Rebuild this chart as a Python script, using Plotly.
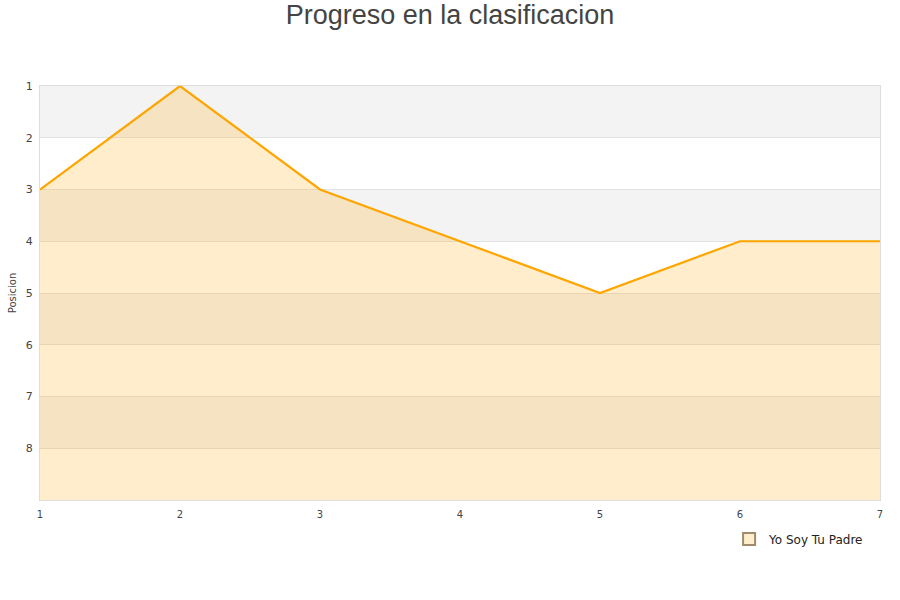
import plotly.graph_objects as go

jornadas = [1, 2, 3, 4, 5, 6, 7]
posicion = [3, 1, 3, 4, 5, 4, 4]
fondo = [9, 9, 9, 9, 9, 9, 9]
y_ticks = [1, 2, 3, 4, 5, 6, 7, 8]
equipo = "Yo Soy Tu Padre"

fig = go.Figure()
fig.add_trace(go.Scatter(x=jornadas, y=fondo, mode="lines", line=dict(width=0),
                         showlegend=False, hoverinfo="skip"))
fig.add_trace(go.Scatter(x=jornadas, y=posicion, mode="lines", fill="tonexty",
                         fillcolor="rgba(255,165,0,0.2)",
                         line=dict(color="#ffa500", width=2.2),
                         showlegend=False, name=equipo))
fig.add_trace(go.Scatter(x=[None], y=[None], mode="markers", name=equipo,
                         marker=dict(symbol="square", size=7, color="#ffedcc",
                                     line=dict(color="#a08c6c", width=1))))

shapes = []
for i in range(1, 9, 2):
    shapes.append(dict(type="rect", xref="paper", yref="y", x0=0, x1=1, y0=i, y1=i + 1,
                       fillcolor="#f3f3f3", line=dict(width=0), layer="below"))

fig.update_layout(
    width=900, height=600,
    margin=dict(l=40, r=20, t=86, b=100),
    paper_bgcolor="white", plot_bgcolor="white",
    title=dict(text="Progreso en la clasificacion", x=0.5, xanchor="center", y=0.975, yanchor="middle",
               font=dict(family="Liberation Sans", size=27, color="#444")),
    font=dict(family="DejaVu Sans", size=11, color="#444"),
    shapes=shapes,
    xaxis=dict(range=[1, 7], tickvals=jornadas, showgrid=False, zeroline=False,
               showline=True, linecolor="#dddddd", linewidth=1, mirror=True,
               ticks="", tickfont=dict(size=10), ticklabelstandoff=5, automargin=False),
    yaxis=dict(range=[9, 1], tickvals=y_ticks, showgrid=True, gridcolor="#e2e2e2",
               zeroline=False, showline=True, linecolor="#dddddd", linewidth=1, mirror=True,
               ticks="", ticklabelstandoff=4, automargin=False,
               title=dict(text="Posicion", font=dict(size=10), standoff=7)),
    legend=dict(x=0.987, xanchor="right", y=-0.094, yanchor="middle", bgcolor="rgba(0,0,0,0)",
                font=dict(size=12, color="#222"), itemsizing="constant"),
    hovermode=False,
)

fig.write_html("out.html", config={"displayModeBar": False},
               post_script="document.body.style.margin='0';")
